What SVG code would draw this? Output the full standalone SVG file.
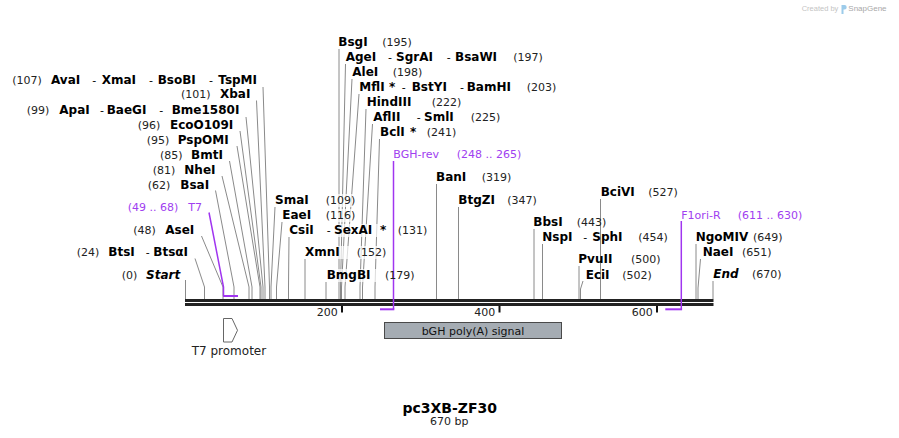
<svg xmlns="http://www.w3.org/2000/svg" width="899" height="438" viewBox="0 0 899 438">
<style>
text{font-family:"DejaVu Sans","Liberation Sans",sans-serif}
.n{font-size:12px;font-weight:bold;fill:#000}
.bi{font-size:12px;font-weight:bold;font-style:italic;fill:#000}
.c{font-size:11px;fill:#222}
.p{font-size:11px;fill:#a040f0}
.l{stroke:#8a8a8a;stroke-width:1;fill:none}
.pl{stroke:#a035f0;stroke-width:1.5;fill:none}
.pb{fill:#a035f0}
.bg{fill:#fff;fill-opacity:0.7}
.tick{fill:#111}
</style>
<rect width="899" height="438" fill="#fff"/>

<!-- watermark -->
<g id="watermark">
<text x="801.7" y="11" style="font-family:'Liberation Sans',sans-serif;font-size:7.5px;fill:#c4c4c4">Created by</text>
<path d="M841.5,5 h3 a2.2,2.2 0 0 1 0,4.4 h-1 v4.6 h-2 z" fill="#9ccbea"/>
<text x="848.3" y="11" style="font-family:'Liberation Sans',sans-serif;font-size:8px;fill:#a8a8a8">SnapGene</text>
</g>

<!-- connectors -->
<g id="connectors">
<polyline class="l" points="185.5,280 185.5,299"/>
<polyline class="l" points="195,258.5 204.5,287 204.5,299"/>
<polyline class="l" points="201.5,236 223,287 223,299"/>
<polyline class="l" points="215.5,190.5 234,287 234,299"/>
<polyline class="l" points="222,176 249,287 249,299"/>
<polyline class="l" points="229.5,161 252,287 252,299"/>
<polyline class="l" points="237,146 260,287 260,299"/>
<polyline class="l" points="240,131 261,287 261,299"/>
<polyline class="l" points="246,117 263,287 263,299"/>
<polyline class="l" points="256.5,100.5 265,287 265,299"/>
<polyline class="l" points="263,87 269.5,287 269.5,299"/>
<polyline class="l" points="339,49 339,299"/>
<polyline class="l" points="345.5,64 340.5,287 340.5,299"/>
<polyline class="l" points="352,79 341.5,287 341.5,299"/>
<polyline class="l" points="359,94 345,287 345,299"/>
<polyline class="l" points="366,109 360,287 360,299"/>
<polyline class="l" points="372.5,124 362.5,287 362.5,299"/>
<polyline class="l" points="379.5,139 375,287 375,299"/>
<polyline class="l" points="275,207 271,287 271,299"/>
<polyline class="l" points="282,222 276.5,287 276.5,299"/>
<polyline class="l" points="289,237 288.5,287 288.5,299"/>
<polyline class="l" points="305,259 305,299"/>
<polyline class="l" points="326,282 326,299"/>
<polyline class="l" points="436.5,184 436.5,299"/>
<polyline class="l" points="458.5,207 458.5,299"/>
<polyline class="l" points="534,229 534,299"/>
<polyline class="l" points="542.5,244 542.5,299"/>
<polyline class="l" points="579,266 579,299"/>
<polyline class="l" points="583,281 580.5,289 580.5,299"/>
<polyline class="l" points="600.5,199 600.5,299"/>
<polyline class="l" points="696,244 696,299"/>
<polyline class="l" points="700.5,259 698,288 698,299"/>
<polyline class="l" points="713,281 713,299"/>
</g>

<!-- label backgrounds where lines pass behind text -->
<g id="label-backgrounds">
<rect class="bg" x="273" y="194" width="84" height="13"/>
<rect class="bg" x="280" y="209" width="77" height="13"/>
<rect class="bg" x="287" y="224" width="141" height="13"/>
<rect class="bg" x="303" y="246" width="85" height="13"/>
<rect class="bg" x="324" y="269" width="93" height="13"/>
</g>

<!-- backbone -->
<g id="backbone">
<rect x="185" y="299" width="528.5" height="3" fill="#222"/>
<rect x="185" y="303" width="528.5" height="3" fill="#222"/>
<rect class="tick" x="341" y="306" width="2" height="6.5"/>
<rect class="tick" x="498.5" y="306" width="2" height="6.5"/>
<rect class="tick" x="656" y="306" width="2" height="6.5"/>
<text class="c" x="337.7" y="316" text-anchor="end">200</text>
<text class="c" x="495.3" y="316" text-anchor="end">400</text>
<text class="c" x="652.7" y="316" text-anchor="end">600</text>
</g>

<!-- primers -->
<g id="primer-T7">
<polyline class="pl" points="209,212.5 223.5,287 223.5,296"/>
<rect class="pb" x="223" y="295" width="15" height="2"/>
<text y="211"><tspan class="p" x="127.7">(49 .. 68)</tspan><tspan class="p" x="188.3">T7</tspan></text>
</g>
<g id="primer-BGH-rev">
<polyline class="pl" points="393.5,161 393.5,309.3"/>
<rect class="pb" x="380" y="308.3" width="14.3" height="2"/>
<text y="158.3"><tspan class="p" x="393.3">BGH-rev</tspan><tspan class="p" x="456.7">(248 .. 265)</tspan></text>
</g>
<g id="primer-F1ori-R">
<polyline class="pl" points="681.3,221 681.3,309.3"/>
<rect class="pb" x="665.3" y="308.3" width="16.8" height="2"/>
<text y="219"><tspan class="p" x="681.3">F1ori-R</tspan><tspan class="p" x="737.7">(611 .. 630)</tspan></text>
</g>

<!-- features -->
<g id="feature-T7-promoter">
<polygon points="223.5,318.5 232,318.5 237.5,330.3 232,342 223.5,342" fill="#fff" stroke="#666" stroke-width="1"/>
<text x="191.7" y="355" style="font-size:12px;fill:#222">T7 promoter</text>
</g>
<g id="feature-bGH">
<rect x="384.5" y="322.5" width="177" height="16" fill="#a5acb3" stroke="#4a4a4a" stroke-width="1"/>
<text x="473" y="334.5" text-anchor="middle" style="font-size:11px;fill:#111">bGH poly(A) signal</text>
</g>

<!-- left cluster sites -->
<g id="site-AvaI"><text y="84"><tspan class="c" x="12.3">(107)</tspan><tspan class="n" x="51">AvaI</tspan><tspan class="c" x="92.3" style="fill:#000">-</tspan><tspan class="n" x="101.7">XmaI</tspan><tspan class="c" x="149" style="fill:#000">-</tspan><tspan class="n" x="157.7">BsoBI</tspan><tspan class="c" x="209" style="fill:#000">-</tspan><tspan class="n" x="218.3">TspMI</tspan></text></g>
<g id="site-XbaI"><text y="97.5"><tspan class="c" x="181">(101)</tspan><tspan class="n" x="220">XbaI</tspan></text></g>
<g id="site-ApaI"><text y="114"><tspan class="c" x="26.7">(99)</tspan><tspan class="n" x="59.3">ApaI</tspan><tspan class="c" x="100" style="fill:#000">-</tspan><tspan class="n" x="106.7">BaeGI</tspan><tspan class="c" x="159.3" style="fill:#000">-</tspan><tspan class="n" x="171.7">Bme1580I</tspan></text></g>
<g id="site-EcoO109I"><text y="128.5"><tspan class="c" x="137.7">(96)</tspan><tspan class="n" x="170">EcoO109I</tspan></text></g>
<g id="site-PspOMI"><text y="143.5"><tspan class="c" x="146.7">(95)</tspan><tspan class="n" x="177.7">PspOMI</tspan></text></g>
<g id="site-BmtI"><text y="158.5"><tspan class="c" x="160">(85)</tspan><tspan class="n" x="191">BmtI</tspan></text></g>
<g id="site-NheI"><text y="174"><tspan class="c" x="152.7">(81)</tspan><tspan class="n" x="184.3">NheI</tspan></text></g>
<g id="site-BsaI"><text y="189"><tspan class="c" x="147.7">(62)</tspan><tspan class="n" x="180.3">BsaI</tspan></text></g>
<g id="site-AseI"><text y="234"><tspan class="c" x="133.3">(48)</tspan><tspan class="n" x="165.3">AseI</tspan></text></g>
<g id="site-BtsI"><text y="256"><tspan class="c" x="76.7">(24)</tspan><tspan class="n" x="108.3">BtsI</tspan><tspan class="c" x="145.7" style="fill:#000">-</tspan><tspan class="n" x="153.3">BtsαI</tspan></text></g>
<g id="site-Start"><text y="279"><tspan class="c" x="121.7">(0)</tspan><tspan class="bi" x="146">Start</tspan></text></g>

<!-- middle upper cluster -->
<g id="site-BsgI"><text y="45.7"><tspan class="n" x="338.3">BsgI</tspan><tspan class="c" x="382.3">(195)</tspan></text></g>
<g id="site-AgeI"><text y="60.7"><tspan class="n" x="345.7">AgeI</tspan><tspan class="c" x="388" style="fill:#000">-</tspan><tspan class="n" x="396">SgrAI</tspan><tspan class="c" x="446.7" style="fill:#000">-</tspan><tspan class="n" x="455">BsaWI</tspan><tspan class="c" x="513.3">(197)</tspan></text></g>
<g id="site-AleI"><text y="75.7"><tspan class="n" x="352.3">AleI</tspan><tspan class="c" x="392.7">(198)</tspan></text></g>
<g id="site-MflI"><text y="90.7"><tspan class="n" x="359.3">MflI</tspan><tspan class="n" x="389">*</tspan><tspan class="c" x="401.7" style="fill:#000">-</tspan><tspan class="n" x="411.7">BstYI</tspan><tspan class="c" x="460" style="fill:#000">-</tspan><tspan class="n" x="466.7">BamHI</tspan><tspan class="c" x="526.7">(203)</tspan></text></g>
<g id="site-HindIII"><text y="105.7"><tspan class="n" x="366.7">HindIII</tspan><tspan class="c" x="431.7">(222)</tspan></text></g>
<g id="site-AflII"><text y="120.7"><tspan class="n" x="373.3">AflII</tspan><tspan class="c" x="416.7" style="fill:#000">-</tspan><tspan class="n" x="424">SmlI</tspan><tspan class="c" x="470.7">(225)</tspan></text></g>
<g id="site-BclI"><text y="135.7"><tspan class="n" x="380">BclI</tspan><tspan class="n" x="410">*</tspan><tspan class="c" x="426.7">(241)</tspan></text></g>

<!-- lower cluster -->
<g id="site-SmaI"><text y="204"><tspan class="n" x="275">SmaI</tspan><tspan class="c" x="325.7">(109)</tspan></text></g>
<g id="site-EaeI"><text y="219"><tspan class="n" x="282.3">EaeI</tspan><tspan class="c" x="325.7">(116)</tspan></text></g>
<g id="site-CsiI"><text y="234"><tspan class="n" x="289.3">CsiI</tspan><tspan class="c" x="326.7" style="fill:#000">-</tspan><tspan class="n" x="334">SexAI</tspan><tspan class="n" x="380">*</tspan><tspan class="c" x="397.7">(131)</tspan></text></g>
<g id="site-XmnI"><text y="256"><tspan class="n" x="305">XmnI</tspan><tspan class="c" x="356.7">(152)</tspan></text></g>
<g id="site-BmgBI"><text y="279.3"><tspan class="n" x="326.7">BmgBI</tspan><tspan class="c" x="385">(179)</tspan></text></g>
<g id="site-BanI"><text y="181"><tspan class="n" x="436">BanI</tspan><tspan class="c" x="481.7">(319)</tspan></text></g>
<g id="site-BtgZI"><text y="204"><tspan class="n" x="458.3">BtgZI</tspan><tspan class="c" x="507.3">(347)</tspan></text></g>
<g id="site-BbsI"><text y="225.7"><tspan class="n" x="533.3">BbsI</tspan><tspan class="c" x="576.7">(443)</tspan></text></g>
<g id="site-NspI"><text y="240.7"><tspan class="n" x="542.3">NspI</tspan><tspan class="c" x="583.3" style="fill:#000">-</tspan><tspan class="n" x="592.3">SphI</tspan><tspan class="c" x="638.3">(454)</tspan></text></g>
<g id="site-PvuII"><text y="263.3"><tspan class="n" x="578.3">PvuII</tspan><tspan class="c" x="631">(500)</tspan></text></g>
<g id="site-EciI"><text y="279"><tspan class="n" x="585.7">EciI</tspan><tspan class="c" x="622.3">(502)</tspan></text></g>
<g id="site-BciVI"><text y="195.7"><tspan class="n" x="600.7">BciVI</tspan><tspan class="c" x="648.3">(527)</tspan></text></g>
<g id="site-NgoMIV"><text y="240.7"><tspan class="n" x="695.7">NgoMIV</tspan><tspan class="c" x="753">(649)</tspan></text></g>
<g id="site-NaeI"><text y="255.7"><tspan class="n" x="702.7">NaeI</tspan><tspan class="c" x="742">(651)</tspan></text></g>
<g id="site-End"><text y="278.3"><tspan class="bi" x="713.3">End</tspan><tspan class="c" x="752">(670)</tspan></text></g>

<!-- title -->
<g id="title">
<text x="449.7" y="412.7" text-anchor="middle" style="font-size:14px;font-weight:bold;fill:#000">pc3XB-ZF30</text>
<text x="449.2" y="425" text-anchor="middle" style="font-size:11px;fill:#222">670 bp</text>
</g>
</svg>
